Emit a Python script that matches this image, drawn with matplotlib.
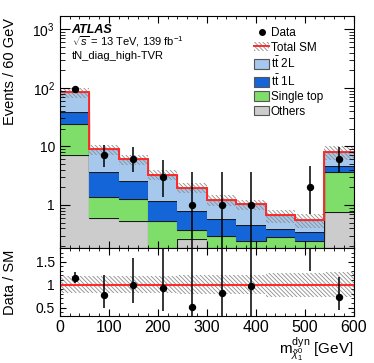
import numpy as np
import matplotlib
matplotlib.use("Agg")
import matplotlib.pyplot as plt
from matplotlib.patches import Patch
from matplotlib.lines import Line2D
from matplotlib.ticker import MultipleLocator, FixedLocator, FixedFormatter, LogLocator, NullFormatter

plt.rcParams['font.family'] = ['Liberation Sans', 'DejaVu Sans']
plt.rcParams['mathtext.fontset'] = 'custom'
plt.rcParams['mathtext.rm'] = 'Liberation Sans'
plt.rcParams['mathtext.it'] = 'Liberation Sans:italic'
plt.rcParams['mathtext.bf'] = 'Liberation Sans:bold'
plt.rcParams['hatch.linewidth'] = 0.6

# binning (60 GeV bins, last one is overflow)
edges = np.arange(0, 601, 60)
centers = 0.5 * (edges[:-1] + edges[1:])

# background components
others     = [7.0, 0.59, 0.52, 0.10, 0.26, 0.10, 0.10, 0.10, 0.10, 0.75]
single_top = [17.3, 0.80, 0.73, 0.42, 0.11, 0.19, 0.136, 0.18, 0.145, 2.96]
ttbar_1l   = [15.0, 2.23, 1.32, 0.65, 0.42, 0.28, 0.214, 0.11, 0.095, 0.99]
ttbar_2l   = [44.7, 5.34, 3.47, 2.09, 1.19, 0.65, 0.58, 0.27, 0.21, 3.45]
sm_rel_unc = [0.19, 0.19, 0.19, 0.19, 0.20, 0.20, 0.20, 0.26, 0.26, 0.27]

# data with asymmetric (Poisson) errors
data      = [97, 7, 6, 3, 1, 1, 1, np.nan, 2, 6]
data_low  = [87.6, 4.42, 3.62, 1.37, 0.17, 0.17, 0.17, np.nan, 0.71, 3.62]
data_high = [107.4, 10.77, 9.58, 5.92, 3.6, 3.6, 3.6, np.nan, 4.64, 9.58]

others = np.array(others)
single_top = np.array(single_top)
ttbar_1l = np.array(ttbar_1l)
ttbar_2l = np.array(ttbar_2l)
unc = np.array(sm_rel_unc)
data = np.array(data)
data_low = np.array(data_low)
data_high = np.array(data_high)

total = others + single_top + ttbar_1l + ttbar_2l

fig = plt.figure(figsize=(3.74, 3.63), dpi=100)
ax = fig.add_axes([0.160, 0.317, 0.786, 0.640])
rax = fig.add_axes([0.160, 0.130, 0.786, 0.187])

c_others = '#cccccc'
c_st = '#7fdd6a'
c_1l = '#1466d8'
c_2l = '#a6c8ec'
c_red = '#ff2a2a'
c_hatch = '#8c8c8c'
hatch = '\\' * 8

# stacked histogram
base = np.full(len(total), 1e-3)
for vals, col in [(others, c_others), (single_top, c_st), (ttbar_1l, c_1l), (ttbar_2l, c_2l)]:
    top = base + vals
    ax.stairs(top, edges, baseline=base, fill=True, facecolor=col, edgecolor='none')
    ax.stairs(top, edges, baseline=None, color='#1a1a1a', lw=0.8)
    base = top

# uncertainty band
ax.stairs(total * (1 + unc), edges, baseline=total * (1 - unc), fill=True,
          facecolor='none', edgecolor=c_hatch, hatch=hatch, lw=0)
ax.stairs(total, edges, baseline=None, color=c_red, lw=1.4)

# data
ax.errorbar(centers, data, yerr=[data - data_low, data_high - data],
            fmt='o', color='black', ms=4.3, lw=1.1, capsize=0)

ax.set_yscale('log')
ax.set_xlim(0, 600)
ax.set_ylim(0.184, 1720)
ax.set_ylabel('Events / 60 GeV', fontsize=10.5, loc='top')
ax.yaxis.set_label_coords(-0.145, 0.99)
ax.yaxis.set_major_locator(FixedLocator([1, 10, 100, 1000]))
ax.yaxis.set_major_formatter(FixedFormatter(['1', '10', r'$10^{2}$', r'$10^{3}$']))
ax.yaxis.set_minor_locator(LogLocator(base=10, subs=np.arange(2, 10)))
ax.yaxis.set_minor_formatter(NullFormatter())
ax.xaxis.set_major_locator(MultipleLocator(100))
ax.xaxis.set_minor_locator(MultipleLocator(20))
ax.tick_params(axis='x', which='both', labelbottom=False, direction='in', top=True, bottom=True)
ax.tick_params(axis='x', which='major', length=5)
ax.tick_params(axis='x', which='minor', length=2.5)
ax.tick_params(axis='y', which='both', direction='in', left=True, right=True, labelsize=10)
ax.tick_params(axis='y', which='major', length=7)
ax.tick_params(axis='y', which='minor', length=3.6)

# labels
ax.text(0.04, 0.925, 'ATLAS', transform=ax.transAxes, fontsize=9,
        fontweight='bold', fontstyle='italic')
ax.text(0.04, 0.87, r'$\sqrt{s}$ = 13 TeV, 139 fb$^{-1}$', transform=ax.transAxes, fontsize=8)
ax.text(0.04, 0.815, 'tN_diag_high-TVR', transform=ax.transAxes, fontsize=8)

# legend
handles = [
    Line2D([], [], marker='o', ls='none', color='black', ms=4),
    (Patch(facecolor='white', edgecolor=c_hatch, hatch=hatch, lw=0),
     Line2D([], [], color=c_red, lw=1.4)),
    Patch(facecolor=c_2l, edgecolor='#555555', lw=0.8),
    Patch(facecolor=c_1l, edgecolor='#555555', lw=0.8),
    Patch(facecolor=c_st, edgecolor='#555555', lw=0.8),
    Patch(facecolor=c_others, edgecolor='#555555', lw=0.8),
]
labels = ['Data', 'Total SM', r'$\mathrm{t\bar{t}}$ 2L', r'$\mathrm{t\bar{t}}$ 1L',
          'Single top', 'Others']
ax.legend(handles, labels, loc='upper left', bbox_to_anchor=(0.66, 0.95),
          frameon=False, fontsize=8.5, handlelength=1.3, handleheight=0.9,
          handletextpad=0.15, labelspacing=0.2, borderaxespad=0, borderpad=0)

# ratio panel
ratio = data / total
rax.stairs(1 + unc, edges, baseline=1 - unc, fill=True, facecolor='none',
           edgecolor=c_hatch, hatch=hatch, lw=0)
rax.axhline(1, color=c_red, lw=1.5)
rax.errorbar(centers, ratio, yerr=[(data - data_low) / total, (data_high - data) / total],
             fmt='o', color='black', ms=4.3, lw=1.1, capsize=0)
rax.set_xlim(0, 600)
rax.set_ylim(0.32, 1.8)
rax.yaxis.set_major_locator(FixedLocator([0.5, 1.0, 1.5]))
rax.yaxis.set_major_formatter(FixedFormatter(['0.5', '1', '1.5']))
rax.yaxis.set_minor_locator(MultipleLocator(0.1))
rax.xaxis.set_major_locator(MultipleLocator(100))
rax.xaxis.set_minor_locator(MultipleLocator(20))
rax.tick_params(axis='both', which='both', direction='in', top=True, right=True)
rax.tick_params(axis='x', which='major', length=5, labelsize=11.5, pad=3)
rax.tick_params(axis='x', which='minor', length=2.5)
rax.tick_params(axis='y', which='major', length=4.3, labelsize=10)
rax.tick_params(axis='y', which='minor', length=2.2)
rax.set_ylabel('Data / SM', fontsize=10.5)
rax.yaxis.set_label_coords(-0.145, 0.5)
rax.set_xlabel(r'$\mathrm{m}^{\mathrm{dyn}}_{\tilde{\chi}^{0}_{1}}$ [GeV]', fontsize=11,
               loc='right', labelpad=0)

for a in (ax, rax):
    for s in a.spines.values():
        s.set_linewidth(0.8)

fig.savefig('out.png', dpi=100)
